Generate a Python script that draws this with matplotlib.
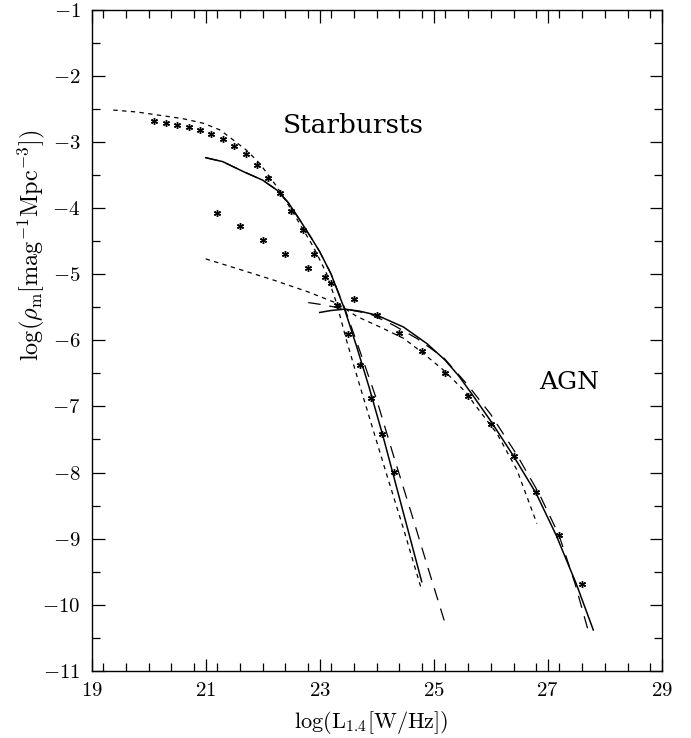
import numpy as np
import matplotlib
matplotlib.use("Agg")
import matplotlib.pyplot as plt
from matplotlib.ticker import MultipleLocator, FixedLocator, FuncFormatter

plt.rcParams['mathtext.fontset'] = 'cm'
plt.rcParams['font.family'] = 'serif'
plt.rcParams['font.serif'] = ['cmr10', 'DejaVu Serif']
plt.rcParams['axes.unicode_minus'] = False
plt.rcParams['axes.formatter.use_mathtext'] = True

# starburst data points (upper row of asterisks)
sb_x = [20.1, 20.3, 20.5, 20.7, 20.9, 21.1, 21.3, 21.5, 21.7, 21.9, 22.1,
        22.3, 22.5, 22.7, 22.9, 23.1, 23.3, 23.5, 23.7, 23.9, 24.1, 24.3]
sb_y = [-2.68, -2.71, -2.74, -2.77, -2.82, -2.88, -2.96, -3.06, -3.19, -3.35, -3.54,
        -3.78, -4.05, -4.34, -4.69, -5.05, -5.46, -5.90, -6.37, -6.88, -7.42, -7.99]

# AGN data points
agn_x = [21.2, 21.6, 22.0, 22.4, 22.8, 23.2, 23.6, 24.0, 24.4, 24.8, 25.2,
         25.6, 26.0, 26.4, 26.8, 27.2, 27.6]
agn_y = [-4.08, -4.28, -4.48, -4.70, -4.91, -5.13, -5.38, -5.62, -5.89, -6.17, -6.49,
         -6.84, -7.26, -7.75, -8.30, -8.95, -9.68]

# starburst model curves
sb_short_x = [19.38, 19.8, 20.2, 20.6, 20.96, 21.25, 21.48, 21.72, 21.95, 22.25, 22.54,
              22.89, 23.12, 23.30, 23.47, 23.68, 24.15, 24.47, 24.79]
sb_short_y = [-2.52, -2.55, -2.60, -2.65, -2.72, -2.82, -2.97, -3.13, -3.33, -3.68, -4.08,
              -4.59, -4.99, -5.45, -6.00, -6.62, -7.96, -8.85, -9.78]

sb_solid_x = [21.0, 21.3, 21.66, 22.0, 22.25, 22.45, 22.65, 22.85, 23.0, 23.2, 23.44,
              23.65, 23.87, 24.12, 24.45, 24.79]
sb_solid_y = [-3.24, -3.30, -3.45, -3.58, -3.73, -3.92, -4.18, -4.45, -4.66, -5.00, -5.54,
              -6.10, -6.72, -7.48, -8.55, -9.65]

sb_long_x = [21.0, 21.3, 21.66, 22.0, 22.25, 22.45, 22.65, 22.85, 23.0, 23.2, 23.44,
             23.7, 24.0, 24.3, 24.61, 24.91, 25.20]
sb_long_y = [-3.24, -3.30, -3.45, -3.58, -3.73, -3.92, -4.18, -4.45, -4.66, -5.00, -5.52,
             -6.15, -6.90, -7.76, -8.62, -9.47, -10.28]

# AGN model curves
agn_solid_x = [23.0, 23.2, 23.44, 23.7, 24.0, 24.47, 24.88, 25.2, 25.45, 25.7, 26.0,
               26.4, 26.8, 27.15, 27.5, 27.8]
agn_solid_y = [-5.58, -5.55, -5.53, -5.56, -5.62, -5.80, -6.05, -6.30, -6.55, -6.85, -7.22,
               -7.75, -8.32, -8.95, -9.68, -10.38]

agn_long_x = [22.80, 23.03, 23.4, 23.88, 24.29, 24.7, 25.17, 25.6, 26.0, 26.45, 26.85,
              27.2, 27.48, 27.74]
agn_long_y = [-5.43, -5.46, -5.52, -5.60, -5.77, -5.97, -6.26, -6.68, -7.12, -7.72, -8.32,
              -8.95, -9.68, -10.48]

agn_short_x = [21.0, 21.6, 22.19, 22.8, 23.30, 23.65, 24.06, 24.47, 24.82, 25.17, 25.58,
               25.70, 26.11, 26.46, 26.81]
agn_short_y = [-4.77, -4.93, -5.09, -5.27, -5.44, -5.64, -5.80, -5.97, -6.20, -6.45, -6.80,
               -6.95, -7.41, -7.96, -8.77]

x_major = [19, 21, 23, 25, 27, 29]

fig = plt.figure(figsize=(6.91, 7.38), dpi=100)
ax = fig.add_axes([0.1327, 0.0908, 0.8249, 0.8963])

lw = 0.9
short = (0, (3.5, 3.5))
long_ = (0, (10, 7))
ax.plot(sb_short_x, sb_short_y, color='k', lw=lw, linestyle=short)
ax.plot(sb_solid_x, sb_solid_y, color='k', lw=lw + 0.2)
ax.plot(sb_long_x, sb_long_y, color='k', lw=lw, linestyle=long_)
ax.plot(agn_short_x, agn_short_y, color='k', lw=lw, linestyle=short)
ax.plot(agn_solid_x, agn_solid_y, color='k', lw=lw + 0.2)
ax.plot(agn_long_x, agn_long_y, color='k', lw=lw, linestyle=long_)

ax.plot(sb_x, sb_y, linestyle='none', marker=(6, 2, 0), ms=5, mew=1.0, color='k')
ax.plot(agn_x, agn_y, linestyle='none', marker=(6, 2, 0), ms=5, mew=1.0, color='k')

ax.text(22.35, -2.86, 'Starbursts', fontsize=19, family='DejaVu Serif')
ax.text(26.85, -6.73, 'AGN', fontsize=18, family='DejaVu Serif')

ax.set_xlim(19, 29)
ax.set_ylim(-11, -1)
ax.xaxis.set_major_locator(FixedLocator(x_major))
ax.xaxis.set_minor_locator(MultipleLocator(0.4))
ax.yaxis.set_major_locator(MultipleLocator(1))
ax.yaxis.set_minor_locator(MultipleLocator(0.5))
fmt = FuncFormatter(lambda v, p: r'$%d$' % round(v))
ax.xaxis.set_major_formatter(fmt)
ax.yaxis.set_major_formatter(fmt)
ax.tick_params(which='both', direction='in', top=True, right=True, labelsize=15, width=0.9)
ax.tick_params(which='major', length=9, pad=8)
ax.tick_params(which='minor', length=5.5)
for s in ax.spines.values():
    s.set_linewidth(1.0)

ax.set_xlabel(r'$\log(\mathrm{L}_{1.4}[\mathrm{W/Hz}])$', fontsize=16)
ax.set_ylabel(r'$\log(\rho_{\mathrm{m}}[\mathrm{mag}^{-1}\mathrm{Mpc}^{-3}])$', fontsize=17.5)
ax.xaxis.set_label_coords(0.49, -0.057)
ax.yaxis.set_label_coords(-0.078, 0.644)

fig.savefig("out.png", dpi=100)
